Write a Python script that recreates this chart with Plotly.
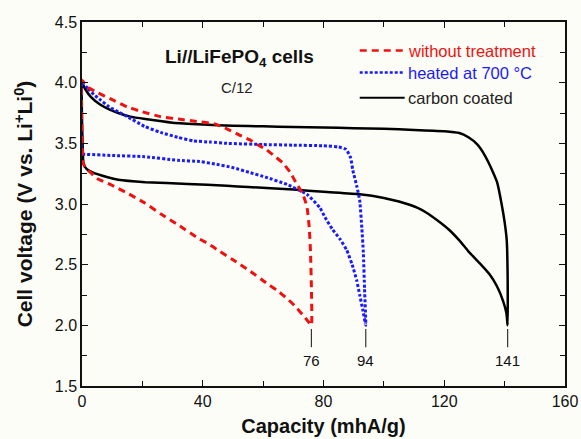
import plotly.graph_objects as go

# Capacity at end of discharge (mAh/g) for each cell
end_capacity = [76, 94, 141]
series_names = ["without treatment", "heated at 700 °C", "carbon coated"]
series_colors = ["#f01010", "#1a1aff", "#000000"]

# --- without treatment (red) ---
red_upper_cap = [0, 2, 5, 10, 15, 20, 26, 32, 38, 44, 48, 52, 55.5, 58, 61, 64, 66.5, 69, 71, 73, 74.5, 75.3, 75.7, 76]
red_upper_v = [4.02, 3.96, 3.92, 3.86, 3.80, 3.76, 3.72, 3.70, 3.68, 3.66, 3.62, 3.57, 3.53, 3.49, 3.45, 3.39, 3.34, 3.26, 3.17, 3.09, 2.98, 2.80, 2.60, 2.30]
red_lower_cap = [75, 73, 70.5, 68, 64.5, 61, 55.5, 50, 45, 42, 39, 31.7, 26, 20.7, 15, 9.5, 5, 2.8, 1, 0.3, 0, 0]
red_lower_v = [2.03, 2.09, 2.16, 2.22, 2.29, 2.35, 2.45, 2.54, 2.62, 2.67, 2.71, 2.83, 2.92, 3.01, 3.09, 3.16, 3.21, 3.26, 3.30, 3.35, 3.60, 4.02]

# --- heated at 700 °C (blue) ---
blue_upper_cap = [0, 2, 4, 6, 9, 12, 15, 20.7, 26, 31.7, 37, 42.7, 48, 60, 70, 80, 85, 87.5, 89, 89.7, 91, 92, 92.7, 93.2, 93.6]
blue_upper_v = [4.00, 3.95, 3.90, 3.86, 3.80, 3.76, 3.72, 3.64, 3.59, 3.55, 3.52, 3.51, 3.50, 3.49, 3.485, 3.48, 3.47, 3.45, 3.38, 3.28, 3.15, 3.03, 2.80, 2.60, 2.30]
blue_lower_cap = [93, 92, 91, 89.5, 87.7, 85.5, 83, 80.5, 78.8, 74.5, 68, 61, 55.5, 50, 44, 39, 31.7, 20.7, 10, 0.5, 0, 0]
blue_lower_v = [2.13, 2.25, 2.37, 2.50, 2.62, 2.71, 2.79, 2.89, 2.97, 3.08, 3.16, 3.22, 3.26, 3.30, 3.33, 3.35, 3.36, 3.39, 3.40, 3.41, 3.41, 4.00]

# --- carbon coated (black) ---
black_upper_cap = [0, 1, 3, 6, 9, 12, 16, 21, 30, 40, 50, 60, 70, 80, 90, 100, 110, 120, 125, 128, 131, 133, 134.5, 136, 137.5, 139, 140, 140.7, 141]
black_upper_v = [4.00, 3.95, 3.88, 3.82, 3.78, 3.75, 3.72, 3.70, 3.67, 3.655, 3.645, 3.64, 3.635, 3.63, 3.625, 3.62, 3.61, 3.60, 3.585, 3.55, 3.49, 3.42, 3.35, 3.27, 3.18, 3.00, 2.85, 2.70, 2.40]
black_lower_cap = [140.6, 139.5, 137.5, 135, 131.8, 128, 125, 121.5, 118, 114, 111, 105, 100, 92, 80, 70, 55, 48, 35, 21, 12, 8.5, 3.5, 1.5, 0.5, 0.2, 0, 0]
black_lower_v = [2.10, 2.20, 2.32, 2.42, 2.51, 2.61, 2.70, 2.79, 2.86, 2.93, 2.97, 3.02, 3.05, 3.08, 3.10, 3.12, 3.14, 3.15, 3.165, 3.18, 3.20, 3.22, 3.26, 3.29, 3.33, 3.50, 3.70, 4.00]

cutoff_voltage = 2.0

x_ticks = [0, 40, 80, 120, 160]
y_ticks = [1.5, 2.0, 2.5, 3.0, 3.5, 4.0, 4.5]

FONT = "Arial, Liberation Sans, sans-serif"


def loop(up_c, up_v, lo_c, lo_v, q_end):
    """Upper branch down to the cut-off point, then the lower branch back."""
    xs = list(up_c) + [q_end] + list(lo_c)
    ys = list(up_v) + [cutoff_voltage] + list(lo_v)
    return xs, ys


curves = [
    loop(red_upper_cap, red_upper_v, red_lower_cap, red_lower_v, end_capacity[0]),
    loop(blue_upper_cap, blue_upper_v, blue_lower_cap, blue_lower_v, end_capacity[1]),
    loop(black_upper_cap, black_upper_v, black_lower_cap, black_lower_v, end_capacity[2]),
]
dashes = ["7px,5px", "3px,2px", "solid"]
widths = [3, 3, 2.5]

fig = go.Figure()

# draw black first so the coloured curves sit on top
for i in [2, 1, 0]:
    xs, ys = curves[i]
    fig.add_trace(go.Scatter(
        x=xs, y=ys, mode="lines", name=series_names[i],
        line=dict(color=series_colors[i], width=widths[i], dash=dashes[i], shape="spline", smoothing=0.4),
        showlegend=False, hoverinfo="skip",
    ))

# end-of-discharge markers with their capacity labels
for q in end_capacity:
    fig.add_shape(type="line", x0=q, x1=q, y0=1.97, y1=1.82, xref="x", yref="y",
                  line=dict(color="#333333", width=1.2))
    fig.add_annotation(x=q, y=1.71, xref="x", yref="y", text=str(q), showarrow=False,
                       xanchor="center", yanchor="middle",
                       font=dict(family=FONT, size=15, color="#111111"))

# legend drawn as short line samples with coloured labels
leg_y = [0.9216, 0.861, 0.792]
for i in range(3):
    fig.add_shape(type="line", xref="paper", yref="paper", x0=0.575, x1=0.668,
                  y0=leg_y[i], y1=leg_y[i],
                  line=dict(color=series_colors[i], width=widths[i] - 0.5, dash=dashes[i]))
    fig.add_annotation(xref="paper", yref="paper", x=0.6705, y=leg_y[i], xanchor="left",
                       yanchor="middle", showarrow=False, text=series_names[i],
                       font=dict(family=FONT, size=16.5, color=series_colors[i] if i < 2 else "#222222"))

fig.add_annotation(xref="paper", yref="paper", x=0.326, y=0.902, showarrow=False,
                   xanchor="center", yanchor="middle",
                   text="<b>Li//LiFePO<sub>4</sub> cells</b>",
                   font=dict(family=FONT, size=19, color="#111111"))
fig.add_annotation(xref="paper", yref="paper", x=0.32, y=0.82, showarrow=False,
                   xanchor="center", yanchor="middle",
                   text="C/12", font=dict(family=FONT, size=15, color="#222222"))

axis_common = dict(
    showline=True, linecolor="#111111", linewidth=1.5, mirror="allticks",
    ticks="inside", ticklen=6, tickwidth=1.2, tickcolor="#111111",
    showgrid=False, zeroline=False, automargin=False,
    tickfont=dict(family=FONT, size=16, color="#111111"),
)

fig.update_xaxes(
    range=[0, 160], tickvals=x_ticks, ticktext=[str(t) for t in x_ticks],
    minor=dict(tickvals=[20, 60, 100, 140], ticks="inside", ticklen=5, tickcolor="#111111"),
    title=dict(text="<b>Capacity (mhA/g)</b>", font=dict(family=FONT, size=20, color="#111111"), standoff=10),
    **axis_common,
)
fig.update_yaxes(
    range=[1.5, 4.5], tickvals=y_ticks, ticktext=[f"{t:.1f}" for t in y_ticks],
    minor=dict(tickvals=[1.75, 2.25, 2.75, 3.25, 3.75, 4.25], ticks="inside", ticklen=5, tickcolor="#111111"),
    title=dict(text="<b>Cell voltage (V vs. Li<sup>+</sup>Li<sup>0</sup>)</b>",
               font=dict(family=FONT, size=21, color="#111111"), standoff=16),
    **axis_common,
)

fig.update_layout(
    width=581, height=439,
    margin=dict(l=82, r=16, t=22, b=53),
    paper_bgcolor="#fdfdf7", plot_bgcolor="#fdfdf7",
    showlegend=False,
)

fig.write_html("out.html")
